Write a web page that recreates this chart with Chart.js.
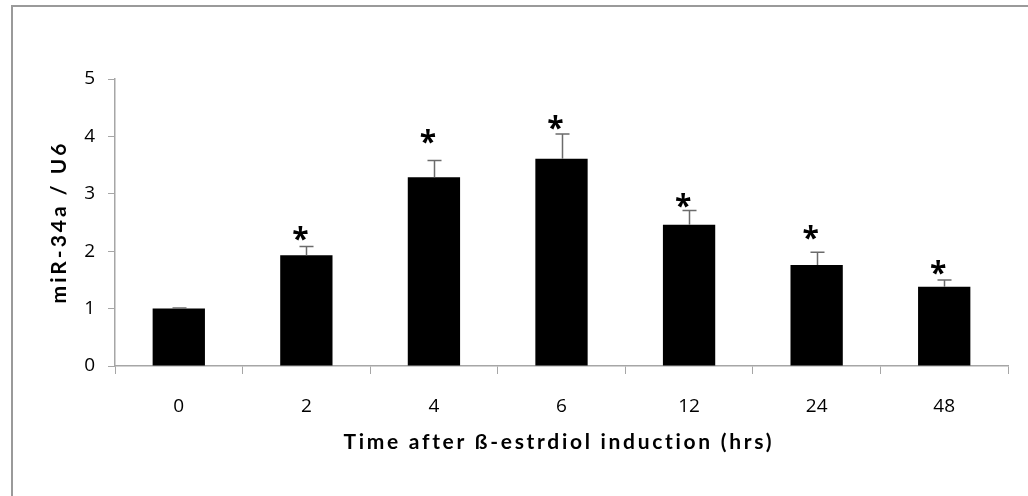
<!DOCTYPE html>
<html>
<head>
<meta charset="utf-8">
<script src="https://cdn.jsdelivr.net/npm/chart.js@4.4.1/dist/chart.umd.min.js"></script>
<style>
  html, body { margin: 0; padding: 0; background: #ffffff; }
  #wrap { position: relative; width: 1028px; height: 496px; }
</style>
</head>
<body>
<div id="wrap"><canvas id="chart" width="1028" height="496"></canvas></div>
<script>
// Hours after β-estradiol induction
const hours = ['0', '2', '4', '6', '12', '24', '48'];
// Relative miR-34a expression (normalised to U6)
const expression = [1.00, 1.93, 3.29, 3.61, 2.46, 1.76, 1.38];
// Standard error of each mean (drawn upward only)
const errors = [0.01, 0.15, 0.29, 0.43, 0.25, 0.22, 0.12];
// Height (in y units) of the significance asterisk over each bar; null = not significant
const starLevels = [null, 2.31, 4.00, 4.25, 2.89, 2.33, 1.71];
// y-axis ticks
const yTicks = [0, 1, 2, 3, 4, 5];

const FONT = '"Open Sans", "Liberation Sans", sans-serif';
const TITLE_FONT = 'Lato, "Open Sans", sans-serif';
const AXIS_GREY = '#a6a6a6';

function spacedText(ctx, text, x, y, spacing) {
  ctx.letterSpacing = spacing + 'px';
  const w = ctx.measureText(text).width - spacing;
  ctx.textAlign = 'left';
  ctx.fillText(text, x - w / 2, y);
  ctx.letterSpacing = '0px';
}

const decorations = {
  id: 'decorations',
  beforeDraw(chart) {
    const ctx = chart.ctx;
    ctx.save();
    ctx.fillStyle = '#ffffff';
    ctx.fillRect(0, 0, chart.width, chart.height);
    // outer frame (top and left edges)
    ctx.strokeStyle = '#9a9a9a';
    ctx.lineWidth = 2;
    ctx.beginPath();
    ctx.moveTo(12, chart.height);
    ctx.lineTo(12, 6);
    ctx.lineTo(chart.width, 6);
    ctx.stroke();
    ctx.restore();
  },
  afterDatasetsDraw(chart) {
    const ctx = chart.ctx;
    const y = chart.scales.y;
    const meta = chart.getDatasetMeta(0);
    ctx.save();
    // error bars
    ctx.strokeStyle = '#6b6b6b';
    ctx.lineWidth = 1.5;
    meta.data.forEach((bar, i) => {
      const cx = Math.round(bar.x) + 0.5;
      const top = y.getPixelForValue(expression[i]);
      const end = y.getPixelForValue(expression[i] + errors[i]);
      ctx.beginPath();
      ctx.moveTo(cx, top);
      ctx.lineTo(cx, end);
      ctx.moveTo(cx - 7, end);
      ctx.lineTo(cx + 7, end);
      ctx.stroke();
    });
    // significance asterisks
    ctx.fillStyle = '#000000';
    ctx.font = 'bold 30px ' + FONT;
    ctx.textAlign = 'center';
    ctx.textBaseline = 'alphabetic';
    const m = ctx.measureText('*');
    const mid = (m.actualBoundingBoxAscent - m.actualBoundingBoxDescent) / 2;
    meta.data.forEach((bar, i) => {
      if (starLevels[i] == null) return;
      const sy = y.getPixelForValue(starLevels[i]);
      ctx.fillText('*', bar.x - 6, sy + mid);
    });
    ctx.restore();
  },
  afterDraw(chart) {
    const ctx = chart.ctx;
    const a = chart.chartArea;
    ctx.save();
    ctx.fillStyle = '#000000';
    ctx.textBaseline = 'middle';
    // x-axis title
    ctx.font = 'bold 21px ' + TITLE_FONT;
    spacedText(ctx, 'Time after ß-estrdiol induction (hrs)', (a.left + a.right) / 2 - 4, 442, 2.7);
    // y-axis title
    ctx.font = 'bold 21px ' + TITLE_FONT;
    ctx.translate(59, (a.top + a.bottom) / 2 + 1);
    ctx.rotate(-Math.PI / 2);
    spacedText(ctx, 'miR-34a / U6', 0, 0, 3);
    ctx.restore();
  }
};

new Chart(document.getElementById('chart'), {
  type: 'bar',
  data: {
    labels: hours,
    datasets: [{
      data: expression,
      backgroundColor: '#000000',
      borderWidth: 0,
      categoryPercentage: 1.0,
      barPercentage: 0.41
    }]
  },
  options: {
    responsive: false,
    animation: false,
    devicePixelRatio: 1,
    layout: { padding: { top: 79, right: 20, bottom: 0, left: 0 } },
    plugins: {
      legend: { display: false },
      tooltip: { enabled: false }
    },
    scales: {
      x: {
        grid: {
          display: true,
          drawOnChartArea: false,
          drawTicks: true,
          tickLength: 8,
          color: AXIS_GREY,
          offset: true
        },
        border: { color: AXIS_GREY, width: 1.5 },
        ticks: {
          color: '#000000',
          font: { family: FONT, size: 19 },
          padding: 21,
          maxRotation: 0
        },
        afterFit(scale) { scale.height = 130; }
      },
      y: {
        min: 0,
        max: 5,
        afterBuildTicks(scale) { scale.ticks = yTicks.map(v => ({ value: v })); },
        grid: {
          display: true,
          drawOnChartArea: false,
          drawTicks: true,
          tickLength: 7,
          color: AXIS_GREY
        },
        border: { color: AXIS_GREY, width: 1.5 },
        ticks: {
          color: '#000000',
          font: { family: FONT, size: 19 },
          padding: 13
        },
        afterFit(scale) { scale.width = 115; }
      }
    }
  },
  plugins: [decorations]
});
</script>
</body>
</html>
